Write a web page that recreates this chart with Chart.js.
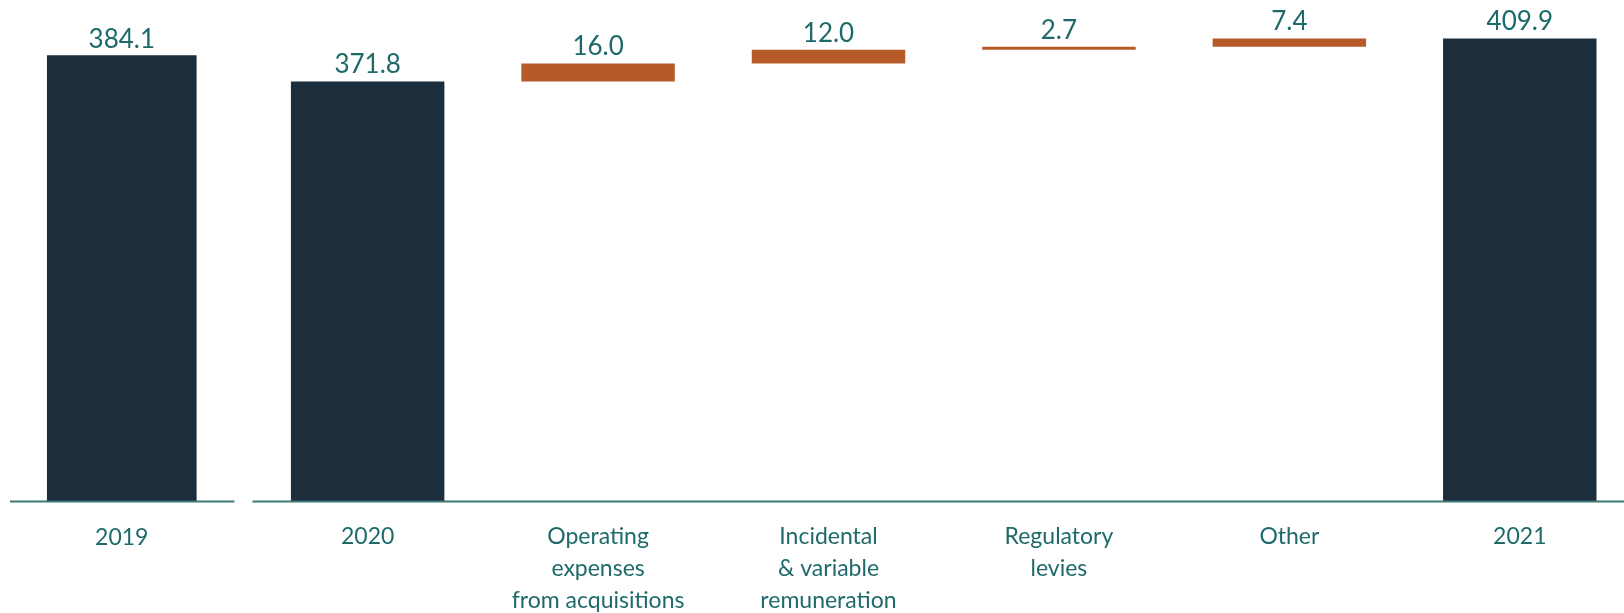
<!DOCTYPE html>
<html>
<head>
<meta charset="utf-8">
<script src="https://cdn.jsdelivr.net/npm/chart.js@4"></script>
<style>
  body { margin: 0; background: #ffffff; overflow: hidden; }
  #wrap { width: 1640px; height: 613px; position: relative; }
</style>
</head>
<body>
<div id="wrap"><canvas id="myChart"></canvas></div>
<script>
// datos del grafico
const categorias = [
  "2019",
  "2020",
  ["Operating", "expenses", "from acquisitions"],
  ["Incidental", "& variable", "remuneration"],
  ["Regulatory", "levies"],
  "Other",
  "2021",
];
const valor2019 = 384.1;
const valor2020 = 371.8;
const pasos = [16.0, 12.0, 2.7, 7.4];
const valor2021 = 409.9;

const azul = "#1c2d3c";
const naranja = "#b75a29";
const teal = "#1e6a6a";
const fuenteTicks = { family: "Lato", size: 23, lineHeight: 1.39 };
const paddingTicks = 12;

// barra 2019 (eje cortado, va en su propia escala)
const data2019 = [{ x: 0, y: valor2019 }];

// totales 2020 y 2021
const dataTotales = [null, valor2020, null, null, null, null, valor2021];

// barras flotantes
const dataPasos = [null, null];
let acumulado = valor2020;
pasos.forEach((p) => {
  dataPasos.push([acumulado, acumulado + p]);
  acumulado += p;
});
dataPasos.push(null);

const etiquetasValores = {
  anio2019: [valor2019.toFixed(1)],
  totales: dataTotales.map((v) => (v == null ? null : v.toFixed(1))),
  pasos: [null, null].concat(pasos.map((p) => p.toFixed(1))).concat([null]),
};

const etiquetasPlugin = {
  id: "etiquetas",
  afterDatasetsDraw(chart) {
    const ctx = chart.ctx;
    ctx.save();
    ctx.font = "26px Lato";
    ctx.fillStyle = teal;
    ctx.textAlign = "center";
    ctx.textBaseline = "alphabetic";
    chart.data.datasets.forEach((ds, i) => {
      const meta = chart.getDatasetMeta(i);
      const textos = etiquetasValores[ds.clave];
      meta.data.forEach((el, j) => {
        if (textos[j] == null) return;
        const top = Math.min(el.y, el.base);
        ctx.fillText(textos[j], el.x, top - 8);
      });
    });

    // etiqueta "2019" debajo de su barra (el tick del eje x queda vacio)
    const bar2019 = chart.getDatasetMeta(0).data[0];
    const x = chart.scales.x;
    ctx.font = fuenteTicks.size + "px " + fuenteTicks.family;
    ctx.textBaseline = "middle";
    const lh = fuenteTicks.size * fuenteTicks.lineHeight;
    ctx.fillText(categorias[0], bar2019.x, x.top + paddingTicks + lh / 2 + 8.5);
    ctx.restore();
  },
};

const ejePlugin = {
  id: "ejeCortado",
  afterDatasetsDraw(chart) {
    const ctx = chart.ctx;
    const x = chart.scales.x;
    const y = chart.chartArea.bottom + 0.5;
    const corte = (x.getPixelForTick(0) + x.getPixelForTick(1)) / 2;
    ctx.save();
    ctx.strokeStyle = "#3b7878";
    ctx.lineWidth = 2;
    ctx.beginPath();
    ctx.moveTo(10, y);
    ctx.lineTo(corte - 18, y);
    ctx.moveTo(corte, y);
    ctx.lineTo(chart.width, y);
    ctx.stroke();
    ctx.restore();
  },
};

var ctx = document.getElementById("myChart");
window.myChart = new Chart(ctx, {
  type: "bar",
  data: {
    labels: categorias,
    datasets: [
      {
        clave: "anio2019",
        data: data2019,
        backgroundColor: azul,
        xAxisID: "x2",
        yAxisID: "y2",
        grouped: false,
        barThickness: 149,
      },
      {
        clave: "totales",
        data: dataTotales,
        backgroundColor: azul,
        xAxisID: "x",
        yAxisID: "y",
        grouped: false,
      },
      {
        clave: "pasos",
        data: dataPasos,
        backgroundColor: naranja,
        xAxisID: "x",
        yAxisID: "y",
        grouped: false,
      },
    ],
  },
  options: {
    responsive: true,
    maintainAspectRatio: false,
    animation: false,
    layout: { padding: { left: 22, right: 5, top: 0, bottom: 0 } },
    datasets: {
      bar: { categoryPercentage: 1, barPercentage: 0.666 },
    },
    plugins: {
      legend: { display: false },
      tooltip: { enabled: false },
    },
    scales: {
      x: {
        grid: { display: false },
        border: { display: false },
        ticks: {
          color: teal,
          font: fuenteTicks,
          padding: paddingTicks,
          maxRotation: 0,
          autoSkip: false,
          callback: function (value, index) {
            return index == 0 ? "" : categorias[index];
          },
        },
        afterFit(scale) {
          scale.height = 112;
        },
      },
      // escala aparte para 2019 (corrida hacia la izquierda por el corte)
      x2: {
        type: "linear",
        display: false,
        offset: false,
        min: -0.433,
        max: 6.567,
      },
      y: { display: false, min: 0, max: 444 },
      y2: { display: false, min: 0, max: 432.1 },
    },
  },
  plugins: [ejePlugin, etiquetasPlugin],
});
</script>
</body>
</html>
